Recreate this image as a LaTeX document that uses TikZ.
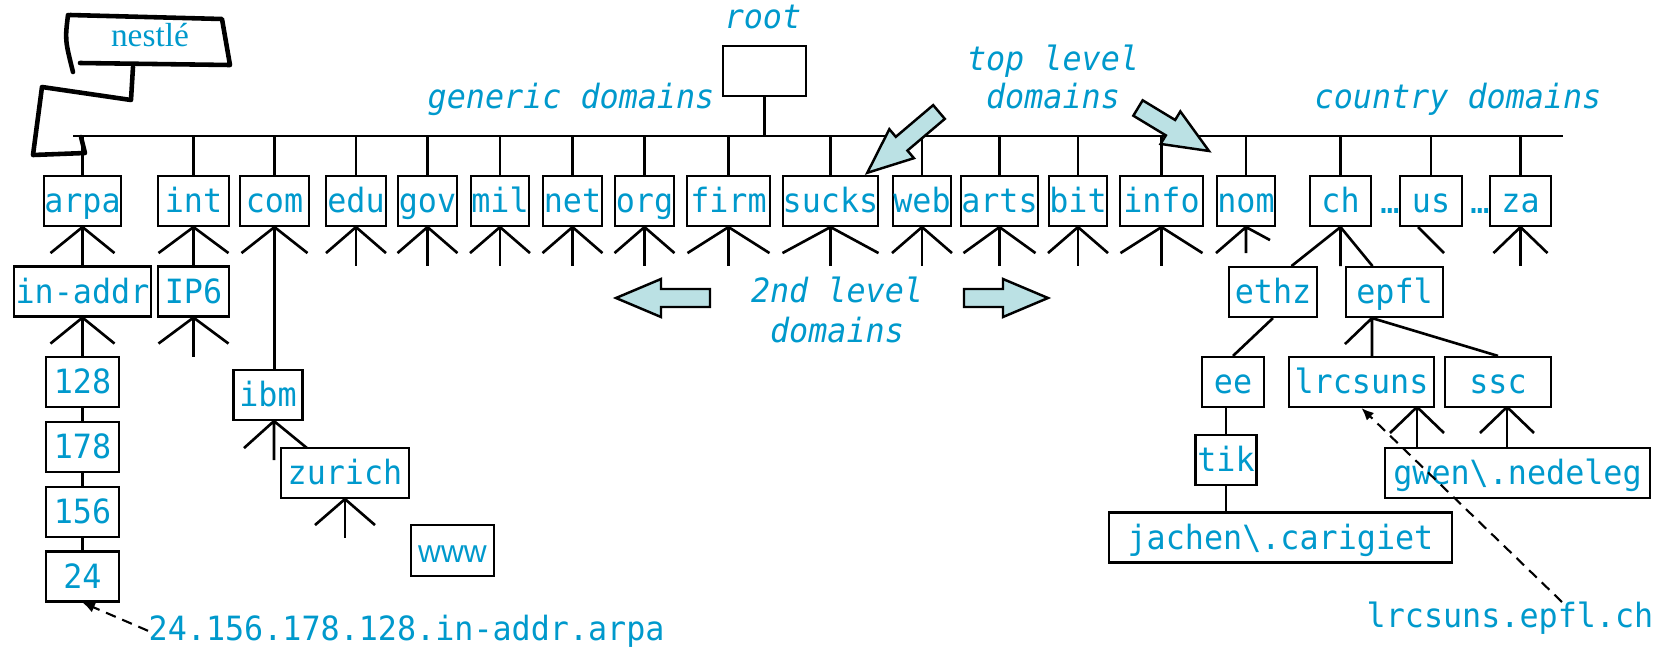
\documentclass[tikz,border=0pt]{standalone}
\usepackage{fontspec}
\setmonofont[FakeStretch=0.95]{DejaVu Sans Mono}
\newfontfamily\nestlefont{Liberation Serif}
\newfontfamily\wwwfont{Liberation Sans}
\usetikzlibrary{arrows.meta}
\definecolor{dnsblue}{RGB}{0,153,204}
\definecolor{arrowcyan}{RGB}{187,225,228}
\tikzset{
	dom/.style={draw,line width=0.6pt,text=dnsblue,font=\ttfamily\fontsize{9.5}{10}\selectfont,inner xsep=0pt,inner ysep=0pt,minimum height=0.5cm,text height=0.23cm,text depth=0pt},
	lbl/.style={text=dnsblue,font=\ttfamily\itshape\fontsize{9.5}{10}\selectfont,inner sep=0pt,anchor=base},
	addr/.style={text=dnsblue,font=\ttfamily\fontsize{9.5}{10}\selectfont,inner sep=0pt,anchor=base west},
	link/.style={line width=0.75pt},
	hand/.style={line width=1.3pt,line cap=round,line join=round},
	arrowbody/.style={draw,line width=0.7pt,fill=arrowcyan},
	pointer/.style={line width=0.6pt,dash pattern=on 3pt off 2pt,-{Latex[length=3.5pt,width=3pt]}}
}
\newcommand{\legs}[2]{\draw[link] (#1) -- ++(-#2,26) (#1) -- ++(#2,26);}
\newcommand{\fan}[2]{\legs{#1}{#2}\draw[link] (#1) -- ++(0,39);}
\newcommand{\fatarrow}[4]{\draw[arrowbody,shift={(#1,#2)},rotate=#3] (0,-9) -- (#4-45,-9) -- (#4-45,-19) -- (#4,0) -- (#4-45,19) -- (#4-45,9) -- (0,9) -- cycle;}
\begin{document}
\begin{tikzpicture}[x=0.01cm,y=-0.01cm]
\useasboundingbox (0,0) rectangle (1665,648);

\coordinate (busL) at (73,136);
\coordinate (busR) at (1563,136);
\draw[link] (busL) -- (busR);

\node[dom,minimum width=83*0.1mm] (root) at (764.5,71) {};
\node[lbl] (rootlbl) at (763,28) {root};
\draw[link] (root.south) -- (root.south |- busL);

\foreach \nm/\x/\w in {arpa/82.5/73,int/193.5/71,com/274.5/69,edu/356/60,gov/427.5/59,mil/500/58,net/572.5/59,org/644.5/59,firm/728.5/83,sucks/830.5/95,web/922/58,arts/999.5/71,bit/1078/58,info/1161.5/83,nom/1246/58,ch/1340.5/61,us/1431/62,za/1520.5/61}
{
	\node[dom,minimum width=\w*0.1mm] (\nm) at (\x,201) {\nm};
	\draw[link] (\nm.north) -- (\nm.north |- busL);
}
\node[addr,anchor=base] (dotsA) at (1390,213) {…};
\node[addr,anchor=base] (dotsB) at (1480,213) {…};

\foreach \nm/\hw in {edu/30,gov/30,mil/30,net/30,org/30,firm/41,sucks/48,web/30,arts/36,bit/30,info/41,za/27}
	{\fan{\nm.south}{\hw}}

\node[dom,minimum width=137*0.1mm] (inaddr) at (82.5,291.5) {in-addr};
\node[dom,minimum width=71*0.1mm] (IP6) at (193.5,291.5) {IP6};
\node[dom,minimum width=73*0.1mm] (n128) at (82.5,382) {128};
\node[dom,minimum width=73*0.1mm] (n178) at (82.5,447) {178};
\node[dom,minimum width=73*0.1mm] (n156) at (82.5,512) {156};
\node[dom,minimum width=73*0.1mm] (n24) at (82.5,576.5) {24};
\node[dom,minimum width=69*0.1mm] (ibm) at (268,395) {ibm};
\node[dom,minimum width=128*0.1mm] (zurich) at (345,473) {zurich};
\node[dom,minimum width=83*0.1mm,minimum height=0.51cm,font=\wwwfont\fontsize{9}{10}\selectfont] (www) at (452.5,550.5) {www};

\legs{arpa.south}{32}
\draw[link] (arpa.south) -- (inaddr.north);
\legs{int.south}{35}
\draw[link] (int.south) -- (IP6.north);
\legs{com.south}{33}
\draw[link] (com.south) -- (com.south |- ibm.north);
\legs{inaddr.south}{32}
\draw[link] (inaddr.south) -- (n128.north);
\fan{IP6.south}{35}
\draw[link] (n128) -- (n178) (n178) -- (n156) (n156) -- (n24);
\draw[link] ([xshift=0.06cm]ibm.south) -- ++(-30,27) ([xshift=0.06cm]ibm.south) -- ++(0,39) ([xshift=0.06cm]ibm.south) -- ++(33,27);
\fan{zurich.south}{30}

\draw[link] (nom.south) -- ++(-30,26) (nom.south) -- ++(0,26) (nom.south) -- ++(24,13);
\draw[link] (ch.south) -- ++(-49,39) (ch.south) -- ++(0,39) (ch.south) -- ++(32,39);
\draw[link] ([xshift=-0.13cm]us.south) -- ++(26,26);

\node[dom,minimum width=88*0.1mm] (ethz) at (1273,292) {ethz};
\node[dom,minimum width=97*0.1mm] (epfl) at (1394.5,292) {epfl};
\node[dom,minimum width=62*0.1mm] (ee) at (1233,382) {ee};
\node[dom,minimum width=61*0.1mm] (tik) at (1226,460) {tik};
\node[dom,minimum width=343*0.1mm] (jachen) at (1280.5,537.5) {jachen\textbackslash.carigiet};
\node[dom,minimum width=145*0.1mm] (lrcsuns) at (1361.5,382) {lrcsuns};
\node[dom,minimum width=106*0.1mm] (ssc) at (1498,382) {ssc};
\node[dom,minimum width=265*0.1mm] (gwen) at (1517.5,473) {gwen\textbackslash.nedeleg};

\draw[link] (ethz.south) -- (ee.north);
\draw[link] (tik.north |- ee.south) -- (tik.north);
\draw[link] (tik.south) -- (tik.south |- jachen.north);
\coordinate (epflfoot) at ([xshift=-0.225cm]epfl.south);
\draw[link] (epflfoot) -- ++(-27,26) (epflfoot) -- (epflfoot |- lrcsuns.north) (epflfoot) -- (ssc.north);
\coordinate (lrcfoot) at (1417,407);
\coordinate (sscfoot) at (1507,407);
\legs{lrcfoot}{27}
\draw[link] (lrcfoot) -- (lrcfoot |- gwen.north);
\legs{sscfoot}{27}
\draw[link] (sscfoot) -- (sscfoot |- gwen.north);

\node[lbl] (generic) at (571,108) {generic domains};
\node[lbl] (toplvA) at (1053,70) {top level};
\node[lbl] (toplvB) at (1053,108) {domains};
\node[lbl] (country) at (1458,108) {country domains};
\node[lbl] (secondA) at (837,302) {2nd level};
\node[lbl] (secondB) at (837,342) {domains};

\fatarrow{939}{112}{220.3}{94}
\fatarrow{1138}{108}{-31.2}{83}
\fatarrow{710}{298}{180}{94}
\fatarrow{964}{298}{0}{84}

\node[addr] (addrlbl) at (148,640) {24.156.178.128.in-addr.arpa};
\node[addr] (lrclbl) at (1366,627) {lrcsuns.epfl.ch};
\coordinate (lrctail) at (1562,602);
\draw[pointer] (addrlbl.west) -- (n24.south);
\draw[pointer] (lrctail) -- (lrcsuns.south);

\draw[hand] (70,15) -- (222,19) -- (230,65) -- (80,63);
\draw[hand] (68,15) .. controls (65,40) .. (73,72);
\draw[hand] (133,67) -- (131,100) -- (42,87) -- (33,155) -- (85,153) -- (81,137);
\node[text=dnsblue,font=\nestlefont\fontsize{9.5}{10}\selectfont,anchor=base,inner sep=0pt] (nestle) at (150,46) {nestlé};
\end{tikzpicture}
\end{document}
